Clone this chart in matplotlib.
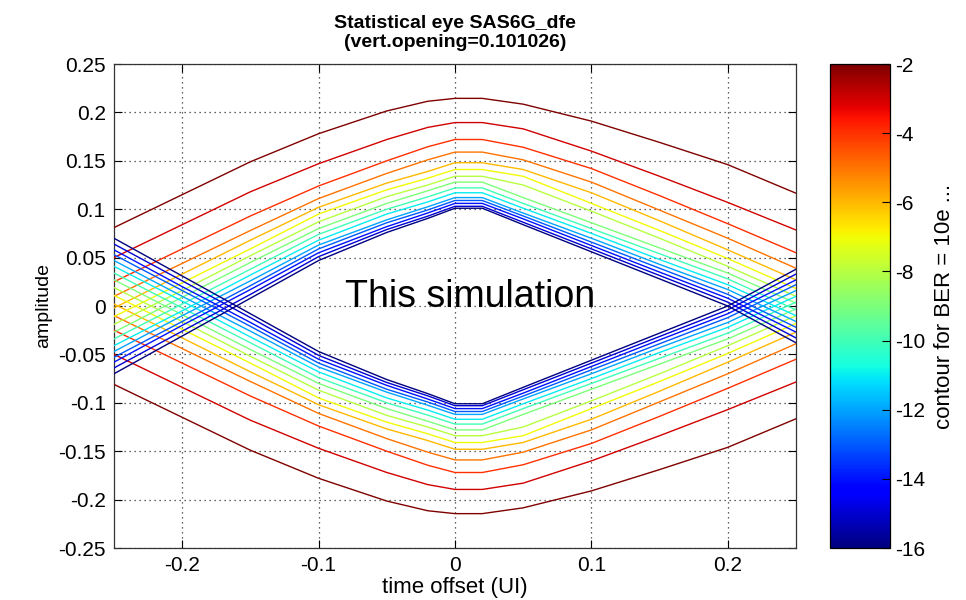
import numpy as np
import matplotlib
matplotlib.use("Agg")
import matplotlib.pyplot as plt
from matplotlib import colors, cm

plt.rcParams['font.family'] = ['Liberation Sans', 'DejaVu Sans']
plt.rcParams['axes.unicode_minus'] = False

# ---- data (upper eye contours; lower ones mirror them) ----
time_offset = [-0.25, -0.2, -0.15, -0.1, -0.05, -0.02, 0.0, 0.02, 0.05, 0.1, 0.15, 0.2, 0.25]

ber_m2 = [0.081, 0.115, 0.149, 0.178, 0.2015, 0.2115, 0.2145, 0.2145, 0.2085, 0.191, 0.169, 0.146, 0.1165]
ber_m3 = [0.050, 0.084, 0.118, 0.147, 0.172, 0.1845, 0.1895, 0.1895, 0.183, 0.160, 0.134, 0.107, 0.0785]
ber_m4 = [0.025, 0.059, 0.093, 0.124, 0.150, 0.1645, 0.172, 0.172, 0.164, 0.142, 0.114, 0.085, 0.055]
ber_m5 = [0.010, 0.044, 0.078, 0.111, 0.137, 0.151, 0.159, 0.159, 0.151, 0.128, 0.099, 0.070, 0.039]
ber_m6 = [-0.002, 0.033, 0.068, 0.102, 0.127, 0.139, 0.148, 0.148, 0.141, 0.117, 0.088, 0.058, 0.027]
ber_m7 = [-0.011, 0.024, 0.059, 0.095, 0.120, 0.132, 0.141, 0.141, 0.134, 0.106, 0.078, 0.049, 0.018]
ber_m8 = [-0.019, 0.016, 0.052, 0.087, 0.113, 0.125, 0.134, 0.134, 0.125, 0.098, 0.070, 0.041, 0.010]
ber_m9 = [-0.027, 0.009, 0.045, 0.080, 0.106, 0.119, 0.128, 0.128, 0.112, 0.086, 0.060, 0.034, 0.003]
ber_m10 = [-0.034, 0.002, 0.038, 0.074, 0.100, 0.1127, 0.122, 0.122, 0.106, 0.080, 0.054, 0.028, -0.004]
ber_m11 = [-0.041, -0.005, 0.032, 0.068, 0.095, 0.1075, 0.117, 0.117, 0.101, 0.075, 0.048, 0.022, -0.010]
ber_m12 = [-0.047, -0.010, 0.026, 0.063, 0.089, 0.1025, 0.112, 0.112, 0.096, 0.070, 0.043, 0.017, -0.016]
ber_m13 = [-0.053, -0.016, 0.021, 0.059, 0.086, 0.0992, 0.109, 0.109, 0.093, 0.066, 0.039, 0.012, -0.022]
ber_m14 = [-0.058, -0.020, 0.017, 0.055, 0.082, 0.0961, 0.106, 0.106, 0.090, 0.0625, 0.035, 0.008, -0.027]
ber_m15 = [-0.064, -0.026, 0.012, 0.051, 0.079, 0.0928, 0.103, 0.103, 0.0865, 0.059, 0.0315, 0.004, -0.033]
ber_m16 = [-0.070, -0.031, 0.008, 0.047, 0.076, 0.0905, 0.101, 0.101, 0.084, 0.056, 0.028, 0.000, -0.038]

ber_levels = [-2, -3, -4, -5, -6, -7, -8, -9, -10, -11, -12, -13, -14, -15, -16]
contours = [ber_m2, ber_m3, ber_m4, ber_m5, ber_m6, ber_m7, ber_m8, ber_m9,
            ber_m10, ber_m11, ber_m12, ber_m13, ber_m14, ber_m15, ber_m16]

x_ticks = [-0.2, -0.1, 0, 0.1, 0.2]
x_ticklabels = ['-0.2', '-0.1', '0', '0.1', '0.2']
y_ticks = [0.25, 0.2, 0.15, 0.1, 0.05, 0, -0.05, -0.1, -0.15, -0.2, -0.25]
y_ticklabels = ['0.25', '0.2', '0.15', '0.1', '0.05', '0', '-0.05', '-0.1', '-0.15', '-0.2', '-0.25']
cb_ticks = [-2, -4, -6, -8, -10, -12, -14, -16]

title_text = 'Statistical eye SAS6G_dfe\n(vert.opening=0.101026)'
note_text = 'This simulation'

# ---- figure ----
fig = plt.figure(figsize=(9.66, 6.0), dpi=100)
ax = fig.add_axes([114 / 966, 1 - 548 / 600, 682 / 966, 484 / 600])
cax = fig.add_axes([830 / 966, 1 - 548 / 600, 60 / 966, 484 / 600])

cmap = plt.get_cmap('jet')
norm = colors.Normalize(vmin=-16, vmax=-2)

xs = np.array(time_offset)
for lev, ys in zip(ber_levels, contours):
    c = cmap(norm(lev))
    ys = np.array(ys)
    ax.plot(xs, ys, color=c, lw=1.0, solid_joinstyle='round', zorder=3)
    ax.plot(xs, -ys, color=c, lw=1.0, solid_joinstyle='round', zorder=3)

ax.set_xlim(-0.25, 0.25)
ax.set_ylim(-0.25, 0.25)
ax.set_xticks(x_ticks)
ax.set_xticklabels(x_ticklabels)
ax.set_yticks(y_ticks)
ax.set_yticklabels(y_ticklabels)
ax.tick_params(direction='in', length=6, width=0.8, top=True, right=True,
               labelsize=15, pad=6)
ax.grid(True, color='#333333', linestyle=(0, (1, 3)), lw=0.9)
for s in ax.spines.values():
    s.set_linewidth(0.9)
    s.set_color('#333333')

ax.set_xlabel('time offset (UI)', fontsize=16, labelpad=1)
ax.set_ylabel('amplitude', fontsize=14, labelpad=4)
ax.set_title(title_text, fontsize=14, fontweight='bold', linespacing=1.2, pad=12)

ax.text(0.011, 0.009, note_text, fontsize=27, ha='center', va='center', zorder=5)

sm = cm.ScalarMappable(norm=norm, cmap=cmap)
cb = fig.colorbar(sm, cax=cax, ticks=cb_ticks)
cb.outline.set_linewidth(0.9)
cax.tick_params(direction='in', length=6, width=0.8, labelsize=15, pad=4)
cax.set_ylabel('contour for BER = 10e ...', fontsize=16, labelpad=6)

fig.savefig('out.png', dpi=100)
